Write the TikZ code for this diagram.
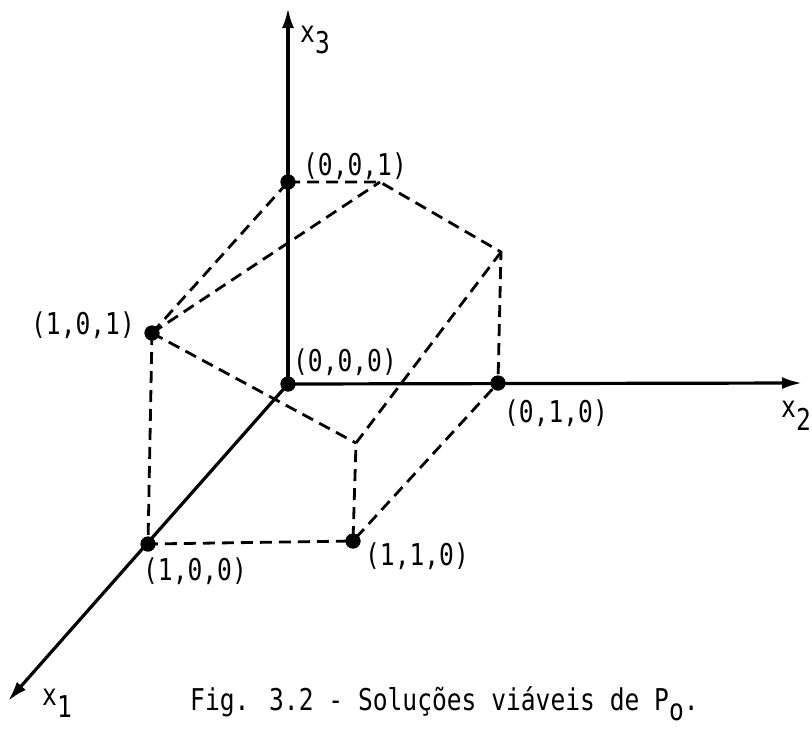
\documentclass[tikz,border=0pt]{standalone}
\usepackage{fontspec}
\newfontfamily\labfont[FakeStretch=0.82]{DejaVu Sans Mono}
\usetikzlibrary{arrows.meta}
\tikzset{
  axis/.style={line width=3.2pt,-{Latex[length=20pt,width=12pt]}},
  edge/.style={line width=2.8pt,dash pattern=on 12pt off 7pt},
  dot/.style={circle,fill=black,inner sep=0pt,minimum size=15pt},
  lab/.style={inner sep=0pt,font=\labfont\fontsize{30}{34}\selectfont}
}
\begin{document}
\begin{tikzpicture}[x=1pt,y=-1pt]
\useasboundingbox (0,0) rectangle (812,729);
% vertices
\node[dot] (O) at (288,384) {};
\node[dot] (p001) at (288,182) {};
\node[dot] (p010) at (498,383) {};
\node[dot] (p101) at (152,333) {};
\node[dot] (p100) at (148,544) {};
\node[dot] (p110) at (353,541) {};
\coordinate (T) at (380,182);
\coordinate (R) at (501,252);
\coordinate (F) at (356,443);
\coordinate (X3) at (288,8);
\coordinate (X2) at (802,383);
\coordinate (X1) at (8,701);
% axes
\draw[axis] (O.center) -- (X3);
\draw[axis] (O.center) -- (X2);
\draw[axis] (O.center) -- (X1);
% dashed edges
\draw[edge] (p001.center) -- (T) -- (R) -- (p010.center);
\draw[edge] (R) -- (F) -- (p110.center) -- (p010.center);
\draw[edge] (p101.center) -- (p001.center);
\draw[edge] (p101.center) -- (T);
\draw[edge] (p101.center) -- (F);
\draw[edge] (p101.center) -- (p100.center) -- (p110.center);
% redraw dots on top
\foreach \n in {O,p001,p010,p101,p100,p110} \node[dot] at (\n) {};
% labels
\node[lab] (l001) at (355,166) {(0,0,1)};
\node[lab] (l101) at (83,325) {(1,0,1)};
\node[lab] (l000) at (345,362) {(0,0,0)};
\node[lab] (l010) at (556,413) {(0,1,0)};
\node[lab] (l100) at (195,571) {(1,0,0)};
\node[lab] (l110) at (417,556) {(1,1,0)};
\node[lab,anchor=base west] (lx3) at (300,42) {x\raisebox{-11pt}{3}};
\node[lab,anchor=base west] (lx2) at (781,417) {x\raisebox{-13pt}{2}};
\node[lab,anchor=base west] (lx1) at (42,705) {x\raisebox{-12pt}{1}};
\node[lab,anchor=base west] (cap) at (190,710) {Fig. 3.2 - Soluções viáveis de P\raisebox{-10pt}{o}.};
\end{tikzpicture}
\end{document}
